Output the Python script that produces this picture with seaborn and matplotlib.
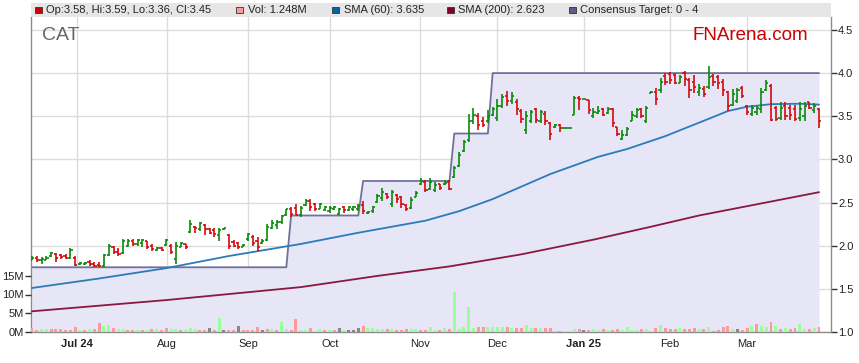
import numpy as np
import pandas as pd
import seaborn as sns
import matplotlib.pyplot as plt
from matplotlib.patches import Rectangle

# daily OHLC (bar index = trading day)
opens = [1.84, 1.86, 1.83, 1.84, 1.88, 1.90, 1.89, 1.88, 1.86, 1.86,
         1.79, 1.79, 1.81, 1.79, 1.78, 1.76, 1.89, 1.98, 1.93, 1.91,
         2.00, 2.06, 2.02, 2.03, 2.05, 2.00, 1.95, 1.97, 2.01, 2.00,
         1.85, 1.99, 2.02, 2.16, 2.22, 2.19, 2.24, 2.19, 2.18, 2.12,
         2.19, 2.12, 2.04, 2.03, 1.99, 2.08, 2.10, 2.06, 2.03, 2.07,
         2.21, 2.24, 2.28, 2.36, 2.42, 2.44, 2.35, 2.47, 2.52, 2.48,
         2.43, 2.41, 2.40, 2.42, 2.37, 2.45, 2.41, 2.42, 2.42, 2.47,
         2.38, 2.40, 2.51, 2.55, 2.60, 2.48, 2.59, 2.56, 2.47, 2.44,
         2.57, 2.72, 2.74, 2.66, 2.64, 2.71, 2.71, 2.74, 2.80, 2.92,
         3.10, 3.22, 3.44, 3.50, 3.45, 3.44, 3.52, 3.48, 3.62, 3.74,
         3.68, 3.67, 3.56, 3.34, 3.45, 3.58, 3.44, 3.53, 3.42, 3.37,
         3.40, 3.36, 3.36, 3.52, 3.71, 3.70, 3.69, 3.50, 3.54, 3.58,
         3.54, 3.58, 3.37, 3.24, 3.28, 3.45, 3.50, 3.58, 3.44, 3.77,
         3.78, 3.80, 3.97, 3.99, 3.98, 3.89, 4.00, 3.92, 3.90, 3.78,
         3.82, 3.84, 3.97, 3.95, 3.90, 3.78, 3.63, 3.68, 3.83, 3.62,
         3.53, 3.55, 3.58, 3.80, 3.85, 3.60, 3.48, 3.62, 3.60, 3.58,
         3.48, 3.50, 3.66, 3.57, 3.58]
highs = [1.88, 1.88, 1.87, 1.88, 1.93, 1.92, 1.90, 1.90, 1.97, 1.88,
         1.81, 1.81, 1.83, 1.81, 1.81, 1.90, 2.02, 2.00, 1.97, 2.08,
         2.08, 2.08, 2.08, 2.08, 2.06, 2.02, 1.99, 1.98, 2.08, 2.02,
         2.04, 2.04, 2.02, 2.30, 2.23, 2.28, 2.25, 2.21, 2.20, 2.21,
         2.21, 2.13, 2.07, 2.04, 2.02, 2.15, 2.12, 2.10, 2.08, 2.25,
         2.30, 2.30, 2.36, 2.43, 2.45, 2.48, 2.46, 2.54, 2.54, 2.49,
         2.50, 2.46, 2.46, 2.46, 2.44, 2.46, 2.46, 2.46, 2.48, 2.52,
         2.40, 2.46, 2.60, 2.67, 2.61, 2.65, 2.60, 2.58, 2.48, 2.56,
         2.63, 2.79, 2.76, 2.78, 2.74, 2.72, 2.76, 2.76, 2.92, 3.09,
         3.23, 3.53, 3.59, 3.54, 3.49, 3.57, 3.61, 3.70, 3.76, 3.79,
         3.78, 3.70, 3.58, 3.56, 3.57, 3.60, 3.57, 3.56, 3.43, 3.41,
         3.41, 3.36, 3.36, 3.73, 3.73, 3.70, 3.69, 3.59, 3.62, 3.59,
         3.61, 3.59, 3.38, 3.34, 3.38, 3.56, 3.59, 3.60, 3.62, 3.79,
         3.83, 3.94, 4.00, 4.01, 4.00, 3.98, 4.02, 3.94, 3.98, 3.87,
         3.85, 4.08, 3.99, 3.98, 3.93, 3.79, 3.81, 3.83, 3.85, 3.63,
         3.63, 3.62, 3.83, 3.92, 3.87, 3.62, 3.67, 3.67, 3.63, 3.63,
         3.67, 3.67, 3.67, 3.65, 3.59]
lows = [1.83, 1.81, 1.79, 1.83, 1.87, 1.81, 1.85, 1.85, 1.85, 1.76,
        1.78, 1.78, 1.76, 1.755, 1.75, 1.75, 1.88, 1.90, 1.88, 1.90,
        1.98, 2.00, 2.00, 1.99, 1.96, 1.94, 1.94, 1.94, 2.00, 1.90,
        1.79, 1.98, 1.96, 2.15, 2.15, 2.17, 2.12, 2.13, 2.10, 2.06,
        2.18, 1.96, 1.98, 1.96, 1.99, 2.06, 2.00, 1.94, 2.02, 2.06,
        2.19, 2.19, 2.25, 2.34, 2.33, 2.35, 2.33, 2.46, 2.40, 2.40,
        2.42, 2.40, 2.38, 2.41, 2.35, 2.38, 2.40, 2.40, 2.40, 2.37,
        2.37, 2.38, 2.49, 2.52, 2.54, 2.45, 2.50, 2.44, 2.40, 2.42,
        2.56, 2.70, 2.62, 2.64, 2.62, 2.65, 2.70, 2.64, 2.79, 2.91,
        3.09, 3.20, 3.41, 3.34, 3.38, 3.42, 3.50, 3.44, 3.60, 3.62,
        3.64, 3.52, 3.42, 3.30, 3.42, 3.42, 3.42, 3.40, 3.22, 3.36,
        3.32, 3.36, 3.36, 3.51, 3.57, 3.70, 3.53, 3.48, 3.53, 3.50,
        3.53, 3.38, 3.27, 3.22, 3.27, 3.44, 3.48, 3.48, 3.42, 3.77,
        3.63, 3.77, 3.86, 3.87, 3.87, 3.88, 3.85, 3.71, 3.77, 3.74,
        3.72, 3.82, 3.85, 3.81, 3.73, 3.56, 3.62, 3.65, 3.71, 3.52,
        3.50, 3.52, 3.54, 3.79, 3.44, 3.44, 3.46, 3.46, 3.46, 3.44,
        3.44, 3.44, 3.58, 3.54, 3.36]
closes = [1.86, 1.83, 1.85, 1.86, 1.91, 1.86, 1.87, 1.86, 1.95, 1.78,
          1.80, 1.80, 1.79, 1.77, 1.76, 1.89, 2.00, 1.93, 1.90, 2.06,
          2.06, 2.02, 2.07, 2.07, 1.99, 1.96, 1.97, 1.95, 2.07, 1.93,
          2.00, 2.03, 1.98, 2.25, 2.20, 2.26, 2.19, 2.15, 2.13, 2.18,
          2.20, 2.00, 2.00, 1.98, 2.01, 2.14, 2.03, 1.98, 2.06, 2.22,
          2.26, 2.27, 2.34, 2.42, 2.37, 2.36, 2.44, 2.52, 2.45, 2.42,
          2.48, 2.45, 2.44, 2.45, 2.43, 2.41, 2.45, 2.45, 2.46, 2.40,
          2.39, 2.45, 2.58, 2.62, 2.56, 2.62, 2.54, 2.48, 2.42, 2.53,
          2.61, 2.75, 2.65, 2.74, 2.70, 2.67, 2.73, 2.66, 2.90, 3.05,
          3.20, 3.44, 3.52, 3.40, 3.40, 3.50, 3.58, 3.62, 3.72, 3.68,
          3.74, 3.58, 3.47, 3.50, 3.55, 3.46, 3.55, 3.45, 3.30, 3.40,
          3.36, 3.36, 3.36, 3.71, 3.70, 3.70, 3.57, 3.55, 3.56, 3.52,
          3.58, 3.42, 3.30, 3.28, 3.35, 3.52, 3.57, 3.50, 3.60, 3.78,
          3.70, 3.90, 3.90, 3.92, 3.89, 3.96, 3.93, 3.80, 3.84, 3.83,
          3.76, 3.95, 3.90, 3.88, 3.80, 3.62, 3.76, 3.80, 3.74, 3.55,
          3.60, 3.60, 3.78, 3.88, 3.46, 3.47, 3.60, 3.50, 3.52, 3.47,
          3.58, 3.62, 3.60, 3.62, 3.45]

# volume in millions, and its colour code (u = up, d = down, n = unchanged)
volumes = [0.98, 0.45, 0.89, 0.89, 0.80, 0.80, 0.80, 0.53, 0.53, 1.25,
           0.53, 0.53, 0.70, 0.70, 2.30, 1.50, 2.00, 0.98, 0.70, 0.70,
           0.53, 0.53, 0.53, 0.53, 0.53, 0.70, 0.80, 0.53, 0.98, 0.70,
           0.70, 0.45, 0.53, 0.98, 0.80, 0.45, 0.45, 0.98, 0.45, 3.65,
           0.53, 0.45, 0.45, 1.50, 0.45, 0.45, 0.53, 1.25, 0.53, 0.90,
           0.70, 0.45, 2.60, 0.70, 0.45, 3.50, 0.45, 0.45, 1.00, 0.30,
           0.70, 0.45, 0.45, 0.45, 1.15, 0.45, 0.45, 0.55, 1.00, 1.50,
           1.00, 1.00, 0.70, 0.70, 0.70, 0.70, 0.45, 0.45, 0.70, 0.70,
           0.70, 0.45, 0.45, 1.25, 0.45, 0.45, 1.15, 0.90, 10.6, 0.90,
           1.40, 6.60, 1.15, 1.40, 1.40, 1.40, 1.40, 1.40, 1.40, 1.25,
           1.15, 1.15, 1.00, 1.80, 1.00, 1.00, 1.00, 1.15, 1.15, 0.27,
           0.27, 0.10, 0.10, 0.90, 0.70, 0.60, 0.45, 0.90, 0.45, 0.80,
           0.55, 0.62, 0.80, 0.62, 1.34, 0.62, 0.62, 0.90, 0.90, 0.30,
           1.16, 1.87, 1.07, 0.80, 0.90, 1.07, 0.90, 0.90, 1.07, 0.90,
           0.90, 1.34, 0.36, 0.62, 1.34, 1.69, 0.90, 0.90, 0.62, 1.16,
           1.60, 2.14, 1.60, 1.34, 2.76, 1.69, 0.90, 1.07, 0.90, 1.07,
           2.14, 0.90, 0.90, 1.16, 1.25]
vol_dir = ("dduudddddd" "ududduuduu" "ddudududdu" "uduuuddndu" "nddnddddnd"
           "uduudduudu" "ududnunnnd" "uuuududddu" "udduududuu" "uuudduuuud"
           "udduududdu" "dnnudnduud" "udduuuuduu" "dudddudddu" "duddddundd"
           "uduudududd" "uudud")

# moving averages, read at a few days along the line
sma60_day = [0, 14, 28, 41, 56, 68, 82, 89, 96, 108, 118, 124, 132, 141, 145, 149, 154, 160, 164]
sma60_val = [1.51, 1.62, 1.74, 1.88, 2.02, 2.15, 2.29, 2.40, 2.54, 2.83, 3.03, 3.12, 3.27, 3.47,
             3.56, 3.61, 3.64, 3.645, 3.635]
sma200_day = [0, 28, 56, 72, 87, 102, 117, 129, 139, 152, 164]
sma200_val = [1.24, 1.37, 1.52, 1.65, 1.76, 1.90, 2.07, 2.22, 2.35, 2.49, 2.62]

# consensus target: level and first day it applies
target_start = [0, 54, 69, 88, 96]
target_level = [1.75, 2.35, 2.75, 3.3, 4.0]

month_pos = [9.4, 28.1, 45.1, 62.2, 80.8, 96.9, 115.0, 132.9, 148.9]
month_labels = ["Jul 24", "Aug", "Sep", "Oct", "Nov", "Dec", "Jan 25", "Feb", "Mar"]
price_ticks = [1.0, 1.5, 2.0, 2.5, 3.0, 3.5, 4.0, 4.5]
vol_ticks = [0, 5, 10, 15]

n = len(closes)
idx = np.arange(n)
df = pd.DataFrame({"open": opens, "high": highs, "low": lows, "close": closes,
                   "volume": volumes, "dir": list(vol_dir)}, index=idx)
df["target"] = np.repeat(target_level, np.diff(target_start + [n]))

sns.set_style("white")
plt.rcParams["font.family"] = ["Liberation Sans", "DejaVu Sans"]

fig = plt.figure(figsize=(8.59, 3.63), dpi=100)
ax = fig.add_axes([31 / 859, 31 / 363, 800 / 859, 315 / 363])

# target band (daily values, so a change rises over one day)
ax.fill_between(idx, 0, df["target"], color="#e6e6f6", lw=0, zorder=1)
ax.plot(idx, df["target"], color="#70709c", lw=1.3, zorder=2)

# moving averages
sns.lineplot(x=sma60_day, y=sma60_val, ax=ax, color="#2b7bb9", lw=1.3, zorder=3)
sns.lineplot(x=sma200_day, y=sma200_val, ax=ax, color="#8a1840", lw=1.3, zorder=3)

# OHLC bars
bar_col = np.where(df["close"] >= df["open"], "#0a8a0a", "#d40a0a")
ax.vlines(idx, df["low"], df["high"], colors=bar_col, lw=1.2, zorder=4)
ax.hlines(df["open"], idx - 0.45, idx, colors=bar_col, lw=1.2, zorder=4)
ax.hlines(df["close"], idx, idx + 0.45, colors=bar_col, lw=1.2, zorder=4)

ax.set_xlim(-0.2, 166.5)
ax.set_ylim(1.0, 4.65)
ax.set_xticks(month_pos)
ax.set_xticklabels(month_labels)
ax.set_yticks(price_ticks)
ax.set_yticklabels([f"{t:.1f}" for t in price_ticks])
ax.grid(True, color="#dcdcdc", lw=1)
ax.set_axisbelow(True)

# volume on its own scale
axv = ax.twinx()
vol_colors = {"u": "#99ff99", "d": "#ff9999", "n": "#888888"}
axv.bar(idx, df["volume"], width=0.62, color=df["dir"].map(vol_colors), lw=0, zorder=2)
axv.set_ylim(0, 84)
axv.set_yticks(vol_ticks)
axv.set_yticklabels([f"{v}M" for v in vol_ticks])

ax.yaxis.tick_right()
ax.tick_params(axis="y", direction="out", length=4, width=1, color="#333333",
               labelsize=8, labelcolor="#222222", pad=1, left=False, labelleft=False,
               right=True, labelright=True)
ax.tick_params(axis="x", length=0, labelsize=8, labelcolor="#222222", pad=5)
for lab in ax.get_xticklabels():
    if " " in lab.get_text():
        lab.set_fontweight("bold")
axv.yaxis.tick_left()
axv.tick_params(axis="y", direction="out", length=4, width=1, color="#333333",
                labelsize=8, labelcolor="#222222", pad=1, right=False, labelright=False,
                left=True, labelleft=True)

for s in ["left", "right", "bottom"]:
    ax.spines[s].set_color("#8c8c8c")
    ax.spines[s].set_linewidth(1)
ax.spines["top"].set_visible(False)
for s in axv.spines.values():
    s.set_visible(False)

# header strip with the legend
hax = fig.add_axes([31 / 859, (363 - 17) / 363, 800 / 859, 14 / 363])
hax.set_facecolor("#e6e6e6")
hax.set_xlim(31, 831)
hax.set_ylim(0, 1)
hax.set_xticks([])
hax.set_yticks([])
for s in hax.spines.values():
    s.set_visible(False)
legend_x = [35, 236, 332, 447, 569]
legend_col = ["#cc0000", "#ff9999", "#0066aa", "#800028", "#5c5c8a"]
legend_txt = ["Op:3.58, Hi:3.59, Lo:3.36, Cl:3.45", "Vol: 1.248M", "SMA (60): 3.635",
              "SMA (200): 2.623", "Consensus Target: 0 - 4"]
for x, c, t in zip(legend_x, legend_col, legend_txt):
    hax.add_patch(Rectangle((x, 0.27), 6.5, 0.46, facecolor=c, edgecolor="#333333", lw=0.6))
    hax.text(x + 11.5, 0.48, t, va="center", ha="left", fontsize=8, color="#222222")

fig.text(42 / 859, 1 - 39.5 / 363, "CAT", fontsize=14, color="#666666", va="baseline")
fig.text(692 / 859, 1 - 39.5 / 363, "FNArena.com", fontsize=13.5, color="#cc0000", va="baseline")

fig.savefig("out.png", dpi=100)
